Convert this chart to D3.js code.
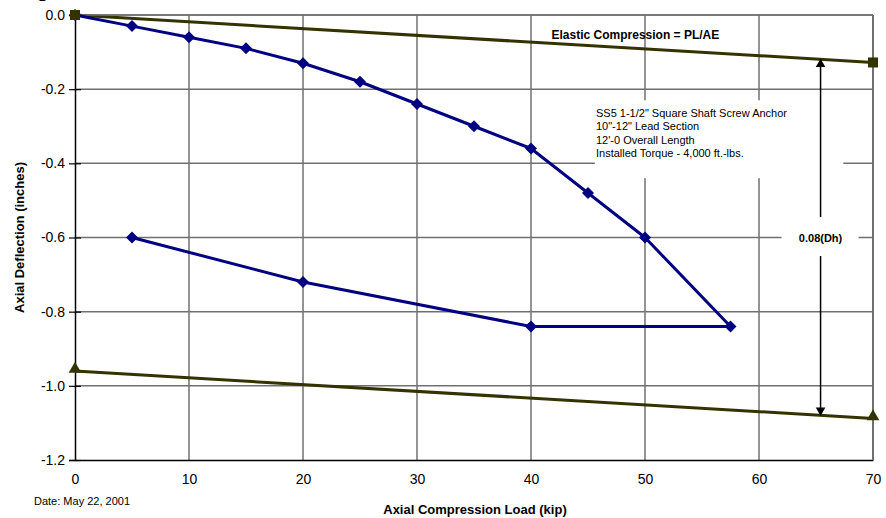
<!DOCTYPE html>
<html>
<head>
<meta charset="utf-8">
<script src="https://cdn.jsdelivr.net/npm/d3@7"></script>
<style>
  body { margin: 0; background: #fff; }
  text { font-family: "Liberation Sans", Arial, sans-serif; }
</style>
</head>
<body>
<div id="chart"></div>
<script>
// test data: load (kip) vs deflection (in)
var loadKip   = [0, 5, 10, 15, 20, 25, 30, 35, 40, 45, 50, 57.5, 40, 20, 5];
var deflIn    = [0, -0.03, -0.06, -0.09, -0.13, -0.18, -0.24, -0.30, -0.36, -0.48, -0.60, -0.84, -0.84, -0.72, -0.60];

// elastic compression line and offset line (PL/AE, and PL/AE - 0.08Dh)
var elasticX  = [0, 70];
var elasticY  = [0, -0.128];
var offsetY   = [-0.96, -1.088];

var xTicks = [0, 10, 20, 30, 40, 50, 60, 70];
var yTicks = [0, -0.2, -0.4, -0.6, -0.8, -1.0, -1.2];

var noteLines = [
  "SS5 1-1/2\" Square Shaft Screw Anchor",
  "10\"-12\" Lead Section",
  "12'-0 Overall Length",
  "Installed Torque - 4,000 ft.-lbs."
];
var arrowX = 65.4;

var svg = d3.select("#chart")
            .append("svg")
            .attr("width", "886")
            .attr("height", "518");

var margin = {top: 15, right: 13, bottom: 58, left: 75},
    width = svg.attr("width") - margin.left - margin.right,
    height = svg.attr("height") - margin.top - margin.bottom,
    g = svg.append("g").attr("transform", "translate(" + margin.left + "," + margin.top + ")");

var x = d3.scaleLinear().domain([0, 70]).range([0, width]),
    y = d3.scaleLinear().domain([-1.2, 0]).range([height, 0]);

// cut-off title glyph at the very top
svg.append("text")
    .attr("x", 36).attr("y", -4)
    .style("font-size", "22px").style("font-weight", "bold")
    .text("g");

// grid
g.append("g")
    .selectAll("line")
    .data(xTicks.slice(1))
    .enter().append("line")
    .attr("x1", function(d) { return x(d); })
    .attr("x2", function(d) { return x(d); })
    .attr("y1", 0).attr("y2", height)
    .style("stroke", "#707070").style("stroke-width", 1.5);

g.append("g")
    .selectAll("line")
    .data(yTicks.slice(0, -1))
    .enter().append("line")
    .attr("x1", 0).attr("x2", width)
    .attr("y1", function(d) { return y(d); })
    .attr("y2", function(d) { return y(d); })
    .style("stroke", "#707070").style("stroke-width", 1.5);

// axes
var xAxis = g.append("g")
    .attr("class", "axis x")
    .attr("transform", "translate(0," + height + ")")
    .call(d3.axisBottom(x).tickValues(xTicks).tickSize(0).tickPadding(14).tickFormat(d3.format("d")));

var yAxis = g.append("g")
    .attr("class", "axis y")
    .call(d3.axisLeft(y).tickValues(yTicks).tickSize(6).tickPadding(4)
      .tickFormat(function(d) { return d3.format(".1f")(d).replace("\u2212", "-"); }));

[xAxis, yAxis].forEach(function(a) {
  a.select(".domain").style("stroke", "#000").style("stroke-width", 1.5);
  a.selectAll("text").style("font-size", "14px").style("fill", "#000")
    .style("font-family", "'Liberation Sans', Arial, sans-serif");
  a.selectAll(".tick line").style("stroke", "#000").style("stroke-width", 1.2);
});
yAxis.selectAll(".tick line").attr("x1", 6).attr("x2", -6);

// axis titles
svg.append("text")
    .attr("x", margin.left + x(35) + 1).attr("y", 514)
    .attr("text-anchor", "middle")
    .style("font-size", "13px").style("font-weight", "bold")
    .text("Axial Compression Load (kip)");

svg.append("text")
    .attr("transform", "translate(24," + (margin.top + y(-0.6)) + ") rotate(-90)")
    .attr("text-anchor", "middle")
    .style("font-size", "13px").style("font-weight", "bold")
    .text("Axial Deflection (inches)");

svg.append("text")
    .attr("x", 34).attr("y", 505)
    .style("font-size", "11px")
    .text("Date: May 22, 2001");

// note box (white background breaks the grid)
g.append("rect")
    .attr("x", x(45.6)).attr("y", y(-0.23))
    .attr("width", x(67.4) - x(45.6)).attr("height", y(-0.44) - y(-0.23))
    .style("fill", "#fff");

g.append("g")
    .selectAll("text")
    .data(noteLines)
    .enter().append("text")
    .attr("x", x(45.7))
    .attr("y", function(d, i) { return y(-0.275) + i * 13.5; })
    .style("font-size", "11px")
    .text(function(d) { return d; });

// elastic compression line
var line = d3.line()
    .x(function(d) { return x(d[0]); })
    .y(function(d) { return y(d[1]); });

var olive = "#333300";

g.append("path")
    .attr("d", line(d3.zip(elasticX, elasticY)))
    .style("fill", "none").style("stroke", olive).style("stroke-width", 3);

g.append("path")
    .attr("d", line(d3.zip(elasticX, offsetY)))
    .style("fill", "none").style("stroke", olive).style("stroke-width", 3);

g.append("text")
    .attr("x", x(41.8)).attr("y", y(-0.065))
    .style("font-size", "12px").style("font-weight", "bold")
    .text("Elastic Compression = PL/AE");

// 0.08(Dh) arrow
var yTop = elasticY[0] + (elasticY[1] - elasticY[0]) * arrowX / 70,
    yBot = offsetY[0] + (offsetY[1] - offsetY[0]) * arrowX / 70;

g.append("line")
    .attr("x1", x(arrowX)).attr("x2", x(arrowX))
    .attr("y1", y(yTop) + 6).attr("y2", y(yBot) - 6)
    .style("stroke", "#000").style("stroke-width", 1.5);

g.append("path")
    .attr("d", d3.symbol(d3.symbolTriangle, 40)())
    .attr("transform", "translate(" + x(arrowX) + "," + (y(yTop) + 5) + ")")
    .style("fill", "#000");

g.append("path")
    .attr("d", d3.symbol(d3.symbolTriangle, 40)())
    .attr("transform", "translate(" + x(arrowX) + "," + (y(yBot) - 5) + ") rotate(180)")
    .style("fill", "#000");

g.append("rect")
    .attr("x", x(arrowX) - 39).attr("y", y(-0.545))
    .attr("width", 77).attr("height", y(-0.65) - y(-0.545))
    .style("fill", "#fff");

g.append("text")
    .attr("x", x(arrowX)).attr("y", y(-0.6) + 4)
    .attr("text-anchor", "middle")
    .style("font-size", "11px").style("font-weight", "bold")
    .text("0.08(Dh)");

// top / right border
g.append("line").attr("x1", 0).attr("x2", width).attr("y1", 0).attr("y2", 0)
    .style("stroke", "#707070").style("stroke-width", 1.5);
g.append("line").attr("x1", width).attr("x2", width).attr("y1", 0).attr("y2", height)
    .style("stroke", "#707070").style("stroke-width", 2);

// test curve
var navy = "#000080";
var pts = d3.zip(loadKip, deflIn);

g.append("path")
    .attr("d", line(pts))
    .style("fill", "none").style("stroke", navy).style("stroke-width", 3)
    .style("stroke-linejoin", "round");

g.selectAll(".pt")
    .data(pts)
    .enter().append("path")
    .attr("class", "pt")
    .attr("d", d3.symbol(d3.symbolSquare, 72)())
    .attr("transform", function(d) { return "translate(" + x(d[0]) + "," + y(d[1]) + ") rotate(45)"; })
    .style("fill", navy);

// end markers of the elastic lines
g.selectAll(".sq")
    .data(d3.zip(elasticX, elasticY))
    .enter().append("rect")
    .attr("class", "sq")
    .attr("x", function(d) { return x(d[0]) - 5; })
    .attr("y", function(d) { return y(d[1]) - 5; })
    .attr("width", 10).attr("height", 10)
    .style("fill", olive);

g.selectAll(".tri")
    .data(d3.zip(elasticX, offsetY))
    .enter().append("path")
    .attr("class", "tri")
    .attr("d", d3.symbol(d3.symbolTriangle, 70)())
    .attr("transform", function(d) { return "translate(" + x(d[0]) + "," + (y(d[1]) - 2) + ")"; })
    .style("fill", olive);
</script>
</body>
</html>
